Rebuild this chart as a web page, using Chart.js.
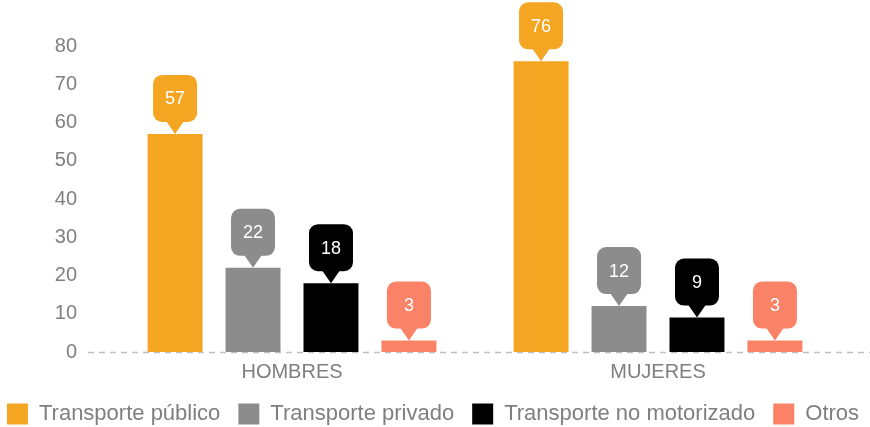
<!DOCTYPE html>
<html>
<head>
<meta charset="utf-8">
<script src="https://cdn.jsdelivr.net/npm/chart.js@4.4.0/dist/chart.umd.min.js"></script>
<style>
  body { margin: 0; background: #fff; }
  #wrap { width: 870px; height: 427px; }
</style>
</head>
<body>
<div id="wrap"><canvas id="grafico"></canvas></div>
<script>
// datos
var categorias = ['HOMBRES', 'MUJERES'];
var series = ['Transporte público', 'Transporte privado', 'Transporte no motorizado', 'Otros'];
var publico = [57, 76];
var privado = [22, 12];
var noMotorizado = [18, 9];
var otros = [3, 3];
var colores = ['#F4A522', '#8C8C8C', '#000000', '#FA8266'];
var ticksY = [0, 10, 20, 30, 40, 50, 60, 70, 80];

var gris = '#7F7F7F';
var fuente = 'Liberation Sans, Arial, sans-serif';

// linea de cero punteada
var lineaCero = {
    id: 'lineaCero',
    beforeDatasetsDraw: function(chart) {
        var c = chart.ctx;
        var y = Math.round(chart.scales.y.getPixelForValue(0)) + 0.5;
        c.save();
        c.strokeStyle = '#BFBFBF';
        c.lineWidth = 1.5;
        c.setLineDash([6, 5]);
        c.beginPath();
        c.moveTo(chart.chartArea.left - 21, y);
        c.lineTo(chart.width, y);
        c.stroke();
        c.restore();
    }
};

// leyenda en una sola fila, mas baja y centrada en todo el ancho
var leyendaBaja = {
    id: 'leyendaBaja',
    beforeInit: function(chart) {
        var fit = chart.legend.fit;
        chart.legend.fit = function() {
            this.maxWidth = 1000;
            fit.call(this);
            this.height = 42;
        };
    },
    afterLayout: function(chart) {
        chart.legend.left = -40;
        chart.legend.right = 906;
    }
};

// etiquetas tipo globo
var globos = {
    id: 'globos',
    afterDatasetsDraw: function(chart) {
        var c = chart.ctx;
        chart.data.datasets.forEach(function(ds, i) {
            var meta = chart.getDatasetMeta(i);
            meta.data.forEach(function(bar, j) {
                var x = bar.x, tip = bar.y;
                var w = 44, h = 47, r = 9, ph = 12, pw = 9;
                var top = tip - ph - h, left = x - w / 2;
                c.save();
                c.fillStyle = ds.backgroundColor;
                c.beginPath();
                c.roundRect(left, top, w, h, r);
                c.fill();
                c.beginPath();
                c.moveTo(x - pw, top + h - 1);
                c.lineTo(x + pw, top + h - 1);
                c.lineTo(x, tip);
                c.closePath();
                c.fill();
                c.fillStyle = '#fff';
                c.font = '18px ' + fuente;
                c.textAlign = 'center';
                c.textBaseline = 'middle';
                c.fillText(ds.data[j], x, top + h / 2 + 1);
                c.restore();
            });
        });
    }
};

var valores = [publico, privado, noMotorizado, otros];
var ctx = document.getElementById('grafico').getContext('2d');
var grafico = new Chart(ctx, {
    type: 'bar',
    data: {
        labels: categorias,
        datasets: series.map(function(nombre, i) {
            return {
                label: nombre,
                data: valores[i],
                backgroundColor: colores[i],
                borderWidth: 0,
                categoryPercentage: 0.852,
                barPercentage: 0.705
            };
        })
    },
    options: {
        responsive: true,
        maintainAspectRatio: false,
        animation: false,
        layout: { padding: { top: 46, right: 29, left: 0, bottom: 0 } },
        plugins: {
            legend: {
                position: 'bottom',
                labels: {
                    boxWidth: 21,
                    boxHeight: 21,
                    padding: 18,
                    color: gris,
                    font: { size: 22, family: fuente }
                }
            },
            tooltip: { enabled: false }
        },
        scales: {
            x: {
                grid: { display: false },
                border: { display: false },
                afterFit: function(scale) { scale.height = 33; },
                ticks: { color: gris, font: { size: 20, family: fuente }, padding: 0 }
            },
            y: {
                min: 0,
                max: 80,
                afterBuildTicks: function(scale) {
                    scale.ticks = ticksY.map(function(v) { return { value: v }; });
                },
                afterFit: function(scale) { scale.width = 109; },
                grid: { display: false },
                border: { display: false },
                ticks: { color: gris, font: { size: 20, family: fuente }, padding: 24 }
            }
        }
    },
    plugins: [lineaCero, leyendaBaja, globos]
});
</script>
</body>
</html>
